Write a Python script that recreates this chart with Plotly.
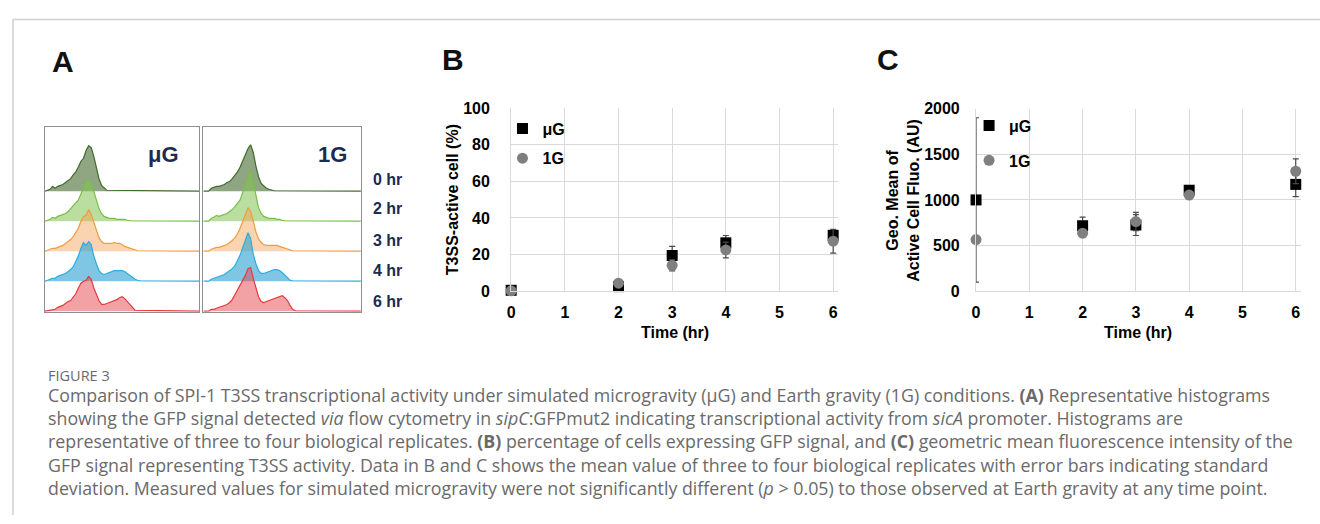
import plotly.graph_objects as go

W, H = 1320, 524

# ---------------- Panel A: flow-cytometry histograms (counts per channel) ----------------
time_labels = ["0 hr", "2 hr", "3 hr", "4 hr", "6 hr"]
mu_0hr = [2, 5, 3, 5, 6, 7, 9, 11, 13, 17, 20, 25, 31, 34, 42, 47, 45, 36, 24, 13, 6, 3, 1]
mu_2hr = [2, 4, 3, 5, 6, 7, 8, 10, 13, 16, 18, 22, 28, 36, 41, 42, 40, 30, 22, 13, 8, 5, 4, 3, 3, 3, 2, 2, 2, 2, 1, 0.5]
mu_3hr = [2, 3, 3, 4, 5, 6, 8, 10, 12, 15, 19, 24, 31, 36, 37, 43, 38, 30, 22, 14, 10, 8, 8, 8, 8, 9, 8, 8, 7, 5, 4, 3, 2, 1, 0.5]
mu_4hr = [2, 3, 3, 5, 6, 7, 8, 10, 12, 15, 20, 26, 34, 40, 37, 41, 38, 26, 18, 11, 8, 7, 8, 9, 10, 11, 11, 11, 11, 10, 8, 6, 4, 2, 1, 0.5]
mu_6hr = [1, 2, 2, 4, 5, 6, 8, 10, 11, 14, 18, 24, 29, 31, 32, 36, 33, 24, 17, 11, 7, 7, 8, 9, 10, 11, 12, 14, 15, 13, 10, 6, 3, 1]
g1_0hr = [0, 3, 4, 5, 5, 6, 7, 9, 10, 13, 16, 20, 25, 32, 38, 44, 48, 40, 26, 15, 8, 5, 3, 2, 1, 0.5]
g1_2hr = [0, 3, 4, 6, 5, 6, 7, 8, 10, 12, 15, 18, 22, 30, 38, 45, 53, 40, 25, 14, 8, 5, 4, 3, 3, 3, 2, 2, 1, 0.5]
g1_3hr = [0, 2, 3, 4, 4, 5, 6, 7, 9, 11, 14, 18, 24, 32, 38, 45, 41, 31, 20, 13, 9, 7, 6, 6, 6, 6, 6, 5, 4, 3, 2, 1, 0.5]
g1_4hr = [0, 2, 3, 4, 5, 6, 7, 9, 11, 13, 16, 21, 27, 35, 42, 50, 44, 28, 18, 11, 8, 8, 9, 10, 11, 12, 12, 11, 9, 6, 3, 1, 0.5]
g1_6hr = [0, 2, 2, 3, 4, 5, 6, 7, 9, 12, 17, 22, 26, 31, 37, 44, 45, 34, 23, 15, 10, 9, 10, 11, 12, 13, 14, 15, 16, 14, 11, 6, 2, 0.5]

# ---------------- Panel B: % T3SS-active cells ----------------
time_hr = [0, 2, 3, 4, 6]
pct_mu = [0.5, 2.5, 19.5, 26.4, 30.5]
pct_mu_sd = [0.3, 1.0, 5.0, 4.0, 3.0]
pct_1g = [0.2, 4.4, 14.1, 22.5, 27.3]
pct_1g_sd = [0.3, 1.0, 3.0, 4.3, 6.5]

# ---------------- Panel C: geometric mean fluorescence ----------------
geo_mu = [1000, 717, 725, 1106, 1170]
geo_mu_sd = [900, 95, 115, 30, 135]
geo_1g = [566, 636, 763, 1053, 1314]
geo_1g_sd = [30, 40, 100, 40, 135]

# ---------------- styling ----------------
row_colors = [
    ("#3e6b2b", "rgba(70,105,45,0.6)"),
    ("#76bf45", "rgba(130,195,80,0.55)"),
    ("#f29a40", "rgba(245,160,80,0.45)"),
    ("#2aaee0", "rgba(40,160,210,0.6)"),
    ("#e5393f", "rgba(230,70,75,0.5)"),
]
NAVY = "#1c2b4f"
GRID = "#d9d9d9"
AX_FONT = "Liberation Sans, Arial, sans-serif"
CAP_FONT = "Open Sans, Lato, sans-serif"
row_px = 31.0


def px_x(x):
    return x / W


def px_y(y):
    return 1 - y / H


fig = go.Figure()

# ---- Panel A traces ----
panels_A = [
    ("x3", "y3", [mu_0hr, mu_2hr, mu_3hr, mu_4hr, mu_6hr]),
    ("x4", "y4", [g1_0hr, g1_2hr, g1_3hr, g1_4hr, g1_6hr]),
]
chan_min, chan_max = -2, 58
for xa, ya, rows in panels_A:
    for k, counts in enumerate(rows):
        base = len(rows) - 1 - k
        chans = list(range(len(counts)))
        xs = [chan_min] + chans + [chan_max]
        ys = [base] + [base + c / row_px for c in counts] + [base]
        lc, fc = row_colors[k]
        fig.add_trace(go.Scatter(
            x=xs, y=ys, xaxis=xa, yaxis=ya, mode="lines", fill="toself",
            fillcolor=fc, line=dict(color=lc, width=1.2), showlegend=False,
            hoverinfo="skip"))

# ---- Panel B traces ----
err_style = dict(type="data", color="#4a4a4a", thickness=1.2, width=3)
fig.add_trace(go.Scatter(
    x=time_hr, y=pct_mu, mode="markers", name="μG", xaxis="x", yaxis="y",
    marker=dict(symbol="square", size=11, color="black"),
    error_y=dict(array=pct_mu_sd, **err_style), cliponaxis=False,
    legend="legend", legendgroup="bmu"))
fig.add_trace(go.Scatter(
    x=time_hr, y=pct_1g, mode="markers", name="1G", xaxis="x", yaxis="y",
    marker=dict(symbol="circle", size=11, color="#7f7f7f"),
    error_y=dict(array=pct_1g_sd, **err_style), cliponaxis=False,
    legend="legend", legendgroup="b1g"))

# ---- Panel C traces ----
fig.add_trace(go.Scatter(
    x=time_hr, y=geo_mu, mode="markers", name="μG", xaxis="x2", yaxis="y2",
    marker=dict(symbol="square", size=11, color="black"),
    error_y=dict(array=geo_mu_sd, **err_style), cliponaxis=False,
    legend="legend2", legendgroup="cmu"))
fig.add_trace(go.Scatter(
    x=time_hr, y=geo_1g, mode="markers", name="1G", xaxis="x2", yaxis="y2",
    marker=dict(symbol="circle", size=11, color="#7f7f7f"),
    error_y=dict(array=geo_1g_sd, **err_style), cliponaxis=False,
    legend="legend2", legendgroup="c1g"))

tickfont = dict(family=AX_FONT, size=16, color="black", weight="bold")


def sci_x(domain, rng):
    return dict(domain=domain, range=rng, tickvals=[0, 1, 2, 3, 4, 5, 6],
                showgrid=True, gridcolor=GRID, gridwidth=1.2, zeroline=False,
                showline=True, linecolor=GRID, linewidth=1.2, ticks="",
                ticklabelstandoff=6, tickfont=tickfont, fixedrange=True)


def sci_y(domain, rng, dtick, anchor, standoff):
    return dict(domain=domain, range=rng, dtick=dtick, anchor=anchor,
                showgrid=True, gridcolor=GRID, gridwidth=1.2, zeroline=False,
                showline=True, linecolor=GRID, linewidth=1.2, ticks="",
                ticklabelstandoff=standoff, tickfont=tickfont, fixedrange=True)


hist_ax = dict(showticklabels=False, showgrid=False, zeroline=False, ticks="",
               showline=True, mirror=True, linecolor="#8f8f8f", linewidth=1,
               fixedrange=True)

fig.update_layout(
    width=W, height=H, margin=dict(l=0, r=0, t=0, b=0),
    paper_bgcolor="white", plot_bgcolor="white",
    xaxis=sci_x([px_x(508.7), px_x(836.7)], [0, 6.093]),
    yaxis=sci_y([px_y(292.7), px_y(103.3)], [0, 100], 20, "x", 17),
    xaxis2=dict(sci_x([px_x(975), px_x(1300.7)], [0, 6.094]), anchor="y2"),
    yaxis2=sci_y([px_y(292.7), px_y(104)], [0, 2000], 500, "x2", 12),
    xaxis3=dict(hist_ax, domain=[px_x(41), px_x(196)], range=[chan_min, chan_max], anchor="y3"),
    yaxis3=dict(hist_ax, domain=[px_y(314), px_y(123)], range=[-0.02, 6.14], anchor="x3"),
    xaxis4=dict(hist_ax, domain=[px_x(200), px_x(358)], range=[chan_min, chan_max], anchor="y4"),
    yaxis4=dict(hist_ax, domain=[px_y(314), px_y(123)], range=[-0.02, 6.14], anchor="x4"),
    legend=dict(x=px_x(500), y=px_y(107), xanchor="left", yanchor="top",
                bgcolor="rgba(0,0,0,0)", tracegroupgap=6, itemsizing="trace",
                font=dict(family=AX_FONT, size=16, color="black", weight="bold")),
    legend2=dict(x=px_x(968), y=px_y(104), xanchor="left", yanchor="top",
                 bgcolor="rgba(0,0,0,0)", tracegroupgap=11, itemsizing="trace",
                 font=dict(family=AX_FONT, size=16, color="black", weight="bold")),
    showlegend=True,
)

ann = []


def add_text(x, y, text, size, color="black", bold=False, family=AX_FONT,
             xanchor="center", yanchor="middle", angle=0):
    ann.append(dict(x=px_x(x), y=px_y(y), xref="paper", yref="paper", text=text,
                    showarrow=False, xanchor=xanchor, yanchor=yanchor, textangle=angle,
                    font=dict(family=family, size=size, color=color,
                              weight="bold" if bold else "normal")))


# panel letters
add_text(59, 55, "A", 30, "#111", True)
add_text(450, 53, "B", 30, "#111", True)
add_text(887, 53, "C", 30, "#111", True)

# panel A labels
add_text(160, 151, "μG", 22, NAVY, True)
add_text(329, 151, "1G", 22, NAVY, True)
for lab, yy in zip(time_labels, [177, 207, 240, 271, 303]):
    add_text(385, yy, lab, 16, NAVY, True)

# axis titles
add_text(673, 335, "Time (hr)", 16, "black", True)
add_text(1137, 335, "Time (hr)", 16, "black", True)
add_text(450, 198, "T3SS-active cell (%)", 16, "black", True, angle=-90)
add_text(901, 199, "Geo. Mean of<br>Active Cell Fluo. (AU)", 16, "black", True, angle=-90)

# caption
CAP = "#6a6a6a"
add_text(42, 380, "FIGURE 3", 14.5, CAP, False, CAP_FONT, xanchor="left")
caption_lines = [
    "Comparison of SPI-1 T3SS transcriptional activity under simulated microgravity (μG) and Earth gravity (1G) conditions. <b>(A)</b> Representative histograms",
    "showing the GFP signal detected <i>via</i> flow cytometry in <i>sipC</i>:GFPmut2 indicating transcriptional activity from <i>sicA</i> promoter. Histograms are",
    "representative of three to four biological replicates. <b>(B)</b> percentage of cells expressing GFP signal, and <b>(C)</b> geometric mean fluorescence intensity of the",
    "GFP signal representing T3SS activity. Data in B and C shows the mean value of three to four biological replicates with error bars indicating standard",
    "deviation. Measured values for simulated microgravity were not significantly different (<i>p</i> &gt; 0.05) to those observed at Earth gravity at any time point.",
]
for line, yy in zip(caption_lines, [400, 424, 448, 472, 496]):
    add_text(42, yy, line, 17.8, CAP, False, CAP_FONT, xanchor="left")

fig.update_layout(annotations=ann)

# outer frame lines
fig.update_layout(shapes=[
    dict(type="line", xref="paper", yref="paper", x0=px_x(9), x1=1, y0=px_y(12), y1=px_y(12),
         line=dict(color="#d0d0d0", width=1.5)),
    dict(type="line", xref="paper", yref="paper", x0=px_x(9), x1=px_x(9), y0=px_y(12), y1=0,
         line=dict(color="#d0d0d0", width=1.5)),
])

fig.write_html(
    "out.html",
    config={"displayModeBar": False},
    post_script="document.body.style.margin='0';document.body.style.overflow='hidden';",
)
